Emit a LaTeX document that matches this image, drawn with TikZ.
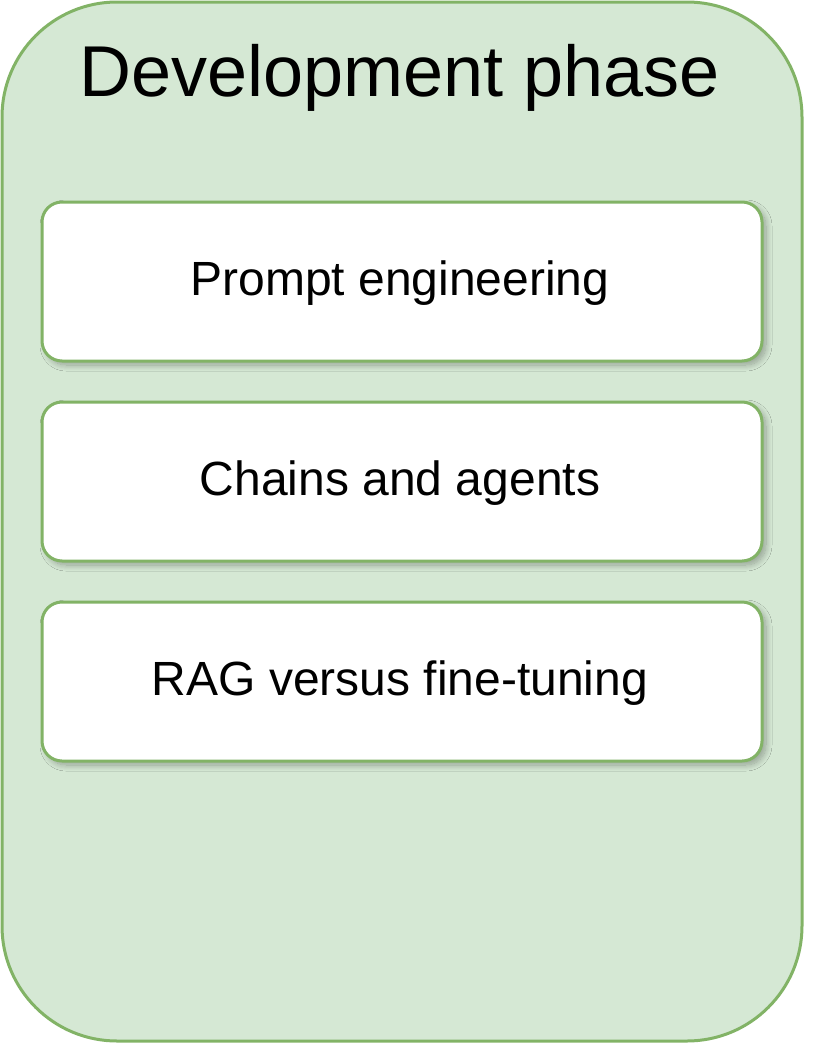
\documentclass[tikz,border=0pt]{standalone}
\usepackage{fontspec}
\setmainfont{Liberation Sans}
\usetikzlibrary{shadows.blur}
\definecolor{gfill}{HTML}{D5E8D4}
\definecolor{gline}{HTML}{82B366}
\tikzset{
  phasebox/.style={draw=gline, fill=gfill, line width=3pt, rounded corners=115pt},
  itembox/.style={draw=gline, fill=white, line width=3pt, rounded corners=20pt,
    blur shadow={shadow xshift=4pt, shadow yshift=-4pt, shadow blur radius=6pt, shadow blur steps=12, shadow opacity=30}},
  itemtext/.style={font=\fontsize{48}{56}\selectfont, anchor=base},
}
\begin{document}
\begin{tikzpicture}[x=1pt,y=-1pt]
\useasboundingbox (0,0) rectangle (836,1044);
\draw[phasebox] (2,2) rectangle (802,1041);
\node[font=\fontsize{72}{84}\selectfont, anchor=base] (title) at (400,96) {Development phase};
\draw[itembox] (42,202) rectangle (762,361);
\node[itemtext] (t1) at (400,295) {Prompt engineering};
\draw[itembox] (42,402) rectangle (762,561);
\node[itemtext] (t2) at (400,495) {Chains and agents};
\draw[itembox] (42,602) rectangle (762,761);
\node[itemtext] (t3) at (400,695) {RAG versus fine-tuning};
\end{tikzpicture}
\end{document}
